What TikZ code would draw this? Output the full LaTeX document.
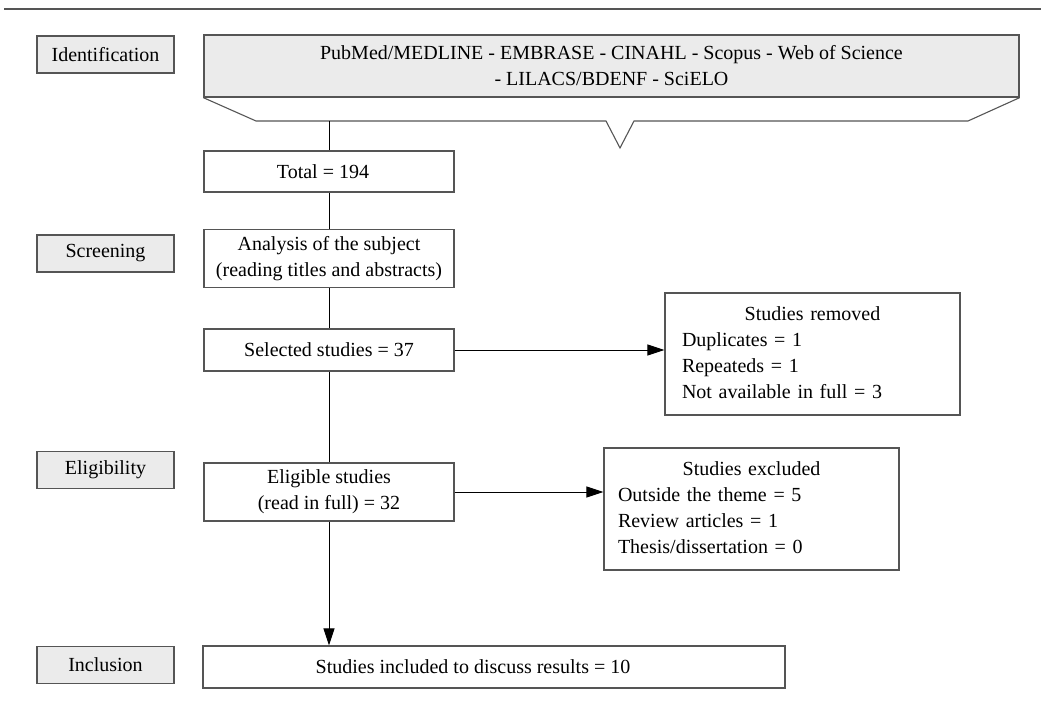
\documentclass[tikz,border=0pt]{standalone}
\usepackage{fontspec}
\setmainfont{Liberation Serif}
\usetikzlibrary{arrows.meta}
\definecolor{boxgray}{HTML}{EBEBEB}
\definecolor{edgegray}{HTML}{555555}
\begin{document}
\begin{tikzpicture}[x=1pt,y=-1pt,
  every node/.style={font=\fontsize{20}{26}\selectfont, inner sep=0pt},
  stagebox/.style={draw=edgegray, line width=1.3pt, fill=boxgray, minimum width=137pt, minimum height=37pt},
  flowbox/.style={draw=edgegray, line width=1.3pt, fill=white, minimum width=250pt, align=center},
  sidebox/.style={draw=edgegray, line width=1.3pt, fill=white, minimum width=295pt},
  conn/.style={line width=1pt, black},
  arr/.style={conn, -{Triangle[length=17pt, width=11pt]}}
]
\useasboundingbox (0,0) rectangle (1041,719);
% top rule
\draw[edgegray, line width=1.3pt] (4,9) -- (1041,9);

% stage labels
\node[stagebox] (ident) at (105.5,54.5) {Identification};
\node[stagebox] (screen) at (105.5,253.5) {Screening};
\node[stagebox] (elig) at (105.5,470) {Eligibility};
\node[stagebox] (incl) at (105.5,665) {Inclusion};

% databases box with callout
\node[draw=edgegray, line width=1.3pt, fill=boxgray, minimum width=815pt, minimum height=62pt, align=center] (db) at (611.5,66)
  {PubMed/MEDLINE - EMBRASE - CINAHL - Scopus - Web of Science\\- LILACS/BDENF - SciELO};
\draw[edgegray, line width=1.1pt] (db.south west) -- (256,121) -- (606,121) -- (620,148) -- (634,121) -- (968,121) -- (db.south east);

% main flow
\node[flowbox, minimum height=41pt] (total) at (329,171.5) {Total = 194\hspace*{12pt}};
\coordinate (dbout) at (total.north |- 0,121);
\node[flowbox, minimum height=58pt] (analysis) at (329,258.5) {Analysis of the subject\\(reading titles and abstracts)};
\node[flowbox, minimum height=42pt] (selected) at (329,350) {Selected studies = 37};
\node[flowbox, minimum height=58pt] (eligible) at (329,492) {Eligible studies\\(read in full) = 32};
\node[draw=edgegray, line width=1.3pt, fill=white, minimum width=582pt, minimum height=42pt] (included) at (494,667) {};
\node (includedtxt) at (473,667) {Studies included to discuss results = 10};

% side boxes
\node[sidebox, minimum height=122pt] (removed) at (812.5,354) {};
\node[text width=261pt, align=left] (removedtxt) at ([yshift=1pt]removed.center)
  {\makebox[\linewidth]{Studies removed}\\Duplicates = 1\\Repeateds = 1\\Not available in full = 3};
\node[sidebox, minimum height=122pt] (excluded) at (751.5,509) {};
\node[text width=267pt, align=left] (excludedtxt) at ([yshift=1pt]excluded.center)
  {\makebox[\linewidth]{Studies excluded}\\Outside the theme = 5\\Review articles = 1\\Thesis/dissertation = 0};

% connectors
\draw[conn] (dbout) -- (total.north);
\draw[conn] (total.south) -- (analysis.north);
\draw[conn] (analysis.south) -- (selected.north);
\draw[conn] (selected.south) -- (eligible.north);
\draw[arr] (eligible.south) -- (eligible.south |- included.north);
\draw[arr] (selected.east) -- (selected.east -| removed.west);
\draw[arr] (eligible.east) -- (eligible.east -| excluded.west);
\end{tikzpicture}
\end{document}
